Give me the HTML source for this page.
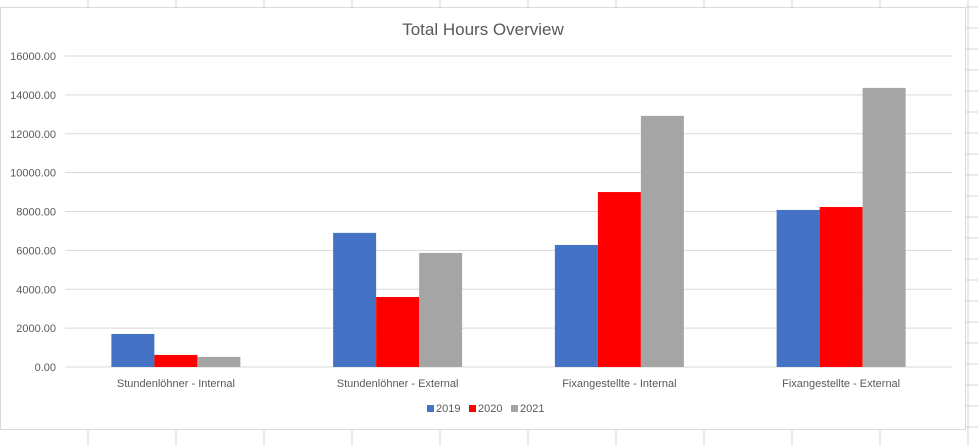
<!DOCTYPE html>
<html><head><meta charset="utf-8"><style>
body{margin:0;width:978px;height:446px;background:#fff;overflow:hidden;font-family:"Liberation Sans",sans-serif;}
svg{display:block}
</style></head><body>
<svg id="c" width="978" height="446"></svg>
<script>
const categories=["Stundenlöhner - Internal","Stundenlöhner - External","Fixangestellte - Internal","Fixangestellte - External"];
const seriesNames=["2019","2020","2021"];
const v2019=[1700,6900,6280,8080];
const v2020=[620,3600,9000,8230];
const v2021=[520,5870,12920,14360];
const ticks=[0,2000,4000,6000,8000,10000,12000,14000,16000];
const colors=["#4472c4","#ff0000","#a5a5a5"];
const svg=document.getElementById('c');
const NS="http://www.w3.org/2000/svg";
function mk(t,a,p){const e=document.createElementNS(NS,t);for(const k in a)e.setAttribute(k,a[k]);(p||svg).appendChild(e);return e;}
// background sheet grid
for(let x=88;x<978;x+=88){let l=mk('line',{x1:x,y1:0,x2:x,y2:446,stroke:'#d4d4d4'});}
for(let y=7;y<446;y+=21){let l=mk('line',{x1:966,y1:y,x2:978,y2:y,stroke:'#d4d4d4'});}
for(let y=430;y<446;y+=21){}
let frame=mk('rect',{x:0.5,y:7.5,width:965,height:422,fill:'#fff',stroke:'#d9d9d9'});

const y0=367,yTop=56,maxV=16000;
const yS=v=>y0-(v/maxV)*(y0-yTop);
const x0=65,x1=952,band=(x1-x0)/categories.length,bw=43;
ticks.forEach(t=>{
 let l=mk('line',{x1:x0,x2:x1,y1:yS(t),y2:yS(t),stroke:'#d9d9d9'});
 
 let tx=mk('text',{x:56,y:yS(t)+4,'text-anchor':'end','font-size':11,fill:'#595959'});tx.textContent=t.toFixed(2);
 
});
const series=[v2019,v2020,v2021];
categories.forEach((c,i)=>{
 const cx=x0+band*(i+0.5);
 series.forEach((s,j)=>{
  const x=cx-1.5*bw+j*bw;
  let r=mk('rect',{x:x,y:yS(s[i]),width:bw,height:y0-yS(s[i]),fill:colors[j]});
  
 });
 let t=mk('text',{x:cx,y:387,'text-anchor':'middle','font-size':11,fill:'#595959'});t.textContent=c;
 
});
let t=mk('text',{x:483,y:35,'text-anchor':'middle','font-size':17,fill:'#595959'});t.textContent="Total Hours Overview";

seriesNames.forEach((n,j)=>{
 const lx=427+j*42;
 let g=mk('g',{});
 mk('rect',{x:lx,y:405,width:7,height:7,fill:colors[j]},g);
 let tt=mk('text',{x:lx+9,y:412,'font-size':11,fill:'#595959'},g);tt.textContent=n;
});
</script>
</body></html>
